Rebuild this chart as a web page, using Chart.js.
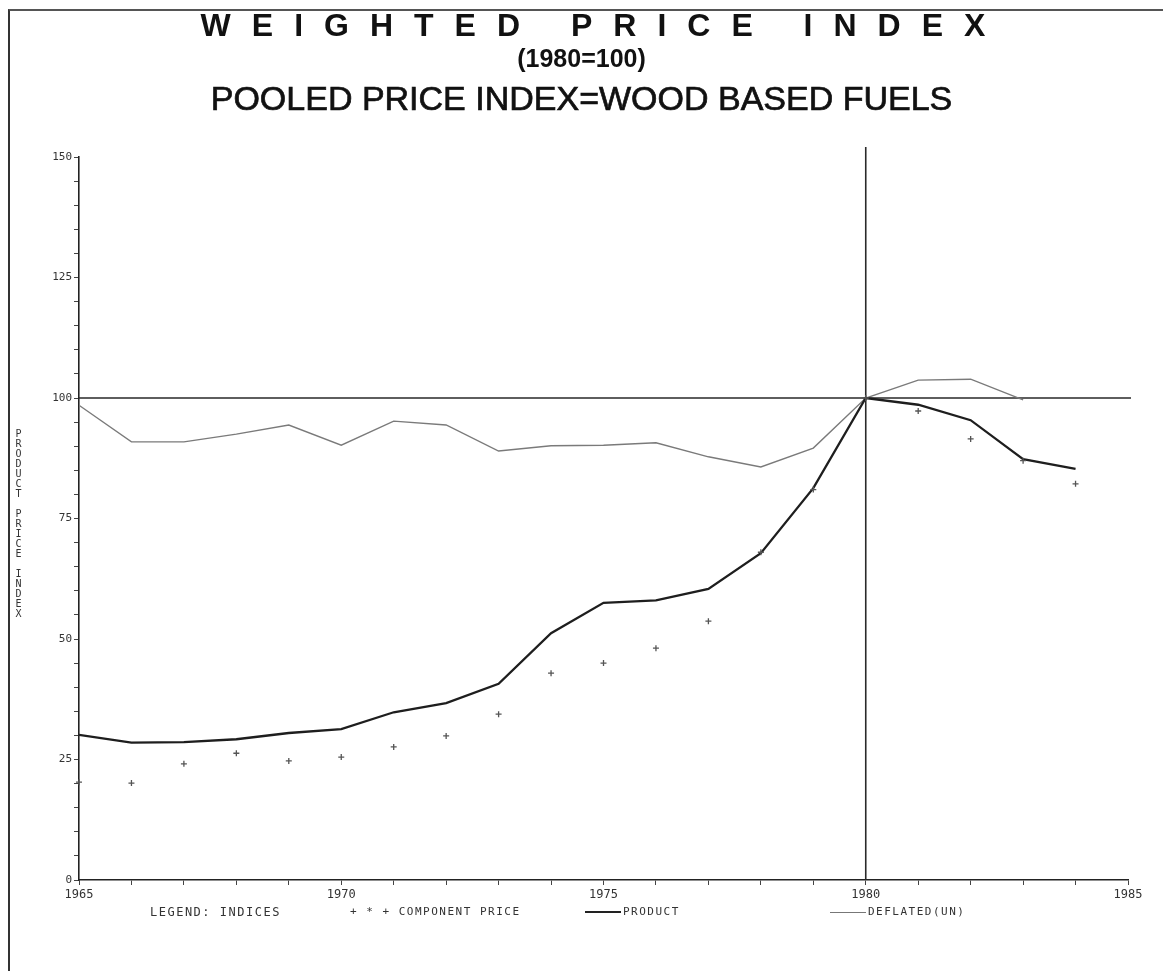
<!DOCTYPE html>
<html>
<head>
<meta charset="utf-8">
<script src="https://cdn.jsdelivr.net/npm/chart.js@4.4.1/dist/chart.umd.min.js"></script>
<style>
  body { margin: 0; background: #fff; }
  #wrap { position: relative; width: 1163px; height: 971px; overflow: hidden; }
  #frame { position: absolute; left: 8px; top: 9px; width: 1160px; height: 970px;
           border-left: 2px solid #333; border-top: 2px solid #555; }
  #chart { position: absolute; left: 0; top: 0; }
  .t { position: absolute; left: 0; width: 1163px; text-align: center; color: #111;
       font-family: "Liberation Sans", Arial, sans-serif; font-weight: bold; white-space: nowrap; }
  #t1 { top: 7px; font-size: 32px; letter-spacing: 21px; padding-left: 22px; }
  #t2 { top: 44px; font-size: 25px; }
  #t3 { top: 79px; font-size: 34px; font-weight: normal; -webkit-text-stroke: 0.7px #111; }
  #ytitle { position: absolute; left: 13px; top: 428px; writing-mode: vertical-lr; text-orientation: upright;
            font-family: "DejaVu Sans Mono", monospace; font-size: 10px; color: #333; letter-spacing: -1px; }
  .lg { position: absolute; top: 905px; font-family: "DejaVu Sans Mono", monospace; font-size: 12px;
        color: #333; letter-spacing: 1.5px; white-space: nowrap; }
  .sw { display: inline-block; vertical-align: middle; width: 36px; margin-right: 2px; }
</style>
</head>
<body>
<div id="wrap">
  <div id="frame"></div>
  <canvas id="chart" width="1163" height="971"></canvas>
  <div class="t" id="t1">WEIGHTED PRICE INDEX</div>
  <div class="t" id="t2">(1980=100)</div>
  <div class="t" id="t3">POOLED PRICE INDEX=WOOD BASED FUELS</div>
  <div id="ytitle">PRODUCT PRICE INDEX</div>
  <div class="lg" style="left:150px">LEGEND: INDICES</div>
  <div class="lg" style="left:350px; font-size:11px">+ * + COMPONENT PRICE</div>
  <div class="lg" style="left:585px; font-size:11px"><span class="sw" style="border-top:2px solid #222"></span>PRODUCT</div>
  <div class="lg" style="left:830px; font-size:11px"><span class="sw" style="border-top:1px solid #777"></span>DEFLATED(UN)</div>
</div>
<script>
// data
const years = [1965, 1966, 1967, 1968, 1969, 1970, 1971, 1972, 1973, 1974,
               1975, 1976, 1977, 1978, 1979, 1980, 1981, 1982, 1983, 1984];
const productIndex = [30.1, 28.5, 28.6, 29.2, 30.5, 31.3, 34.8, 36.7, 40.7, 51.2,
                      57.5, 58.0, 60.4, 67.8, 81.3, 100, 98.6, 95.4, 87.3, 85.3];
const deflatedIndex = [98.5, 90.9, 90.9, 92.5, 94.4, 90.2, 95.2, 94.4, 89.0, 90.1,
                       90.2, 90.7, 87.8, 85.7, 89.6, 100, 103.7, 103.9, 99.6, null];
const componentPrice = [20.3, 20.1, 24.1, 26.3, 24.7, 25.5, 27.6, 29.9, 34.4, 42.9,
                        45.0, 48.1, 53.7, 68.0, 81.0, 100, 97.3, 91.5, 87.0, 82.2];
const baseYear = 1980;
const baseIndex = 100;
const xMin = 1965, xMax = 1985;
const yMin = 0, yMax = 150;

const pts = vals => years.map((y, i) => ({ x: y, y: vals[i] }));

// base year / base index reference lines
const baseLines = {
  id: "baseLines",
  beforeDatasetsDraw(chart) {
    const { ctx, chartArea, scales } = chart;
    const px = scales.x.getPixelForValue(baseYear);
    const py = scales.y.getPixelForValue(baseIndex);
    ctx.save();
    ctx.strokeStyle = "#2a2a2a";
    ctx.lineWidth = 1.6;
    ctx.beginPath();
    ctx.moveTo(chartArea.left, py);
    ctx.lineTo(chartArea.right + 3, py);
    ctx.moveTo(px, chartArea.top - 10);
    ctx.lineTo(px, chartArea.bottom);
    ctx.stroke();
    ctx.restore();
  }
};

const monoFont = { family: "DejaVu Sans Mono", size: 11 };

new Chart(document.getElementById("chart"), {
  type: "line",
  data: {
    datasets: [
      {
        label: "COMPONENT PRICE",
        data: pts(componentPrice),
        showLine: false,
        pointStyle: "cross",
        pointRadius: 3,
        borderColor: "#555",
        borderWidth: 1.3,
        clip: false
      },
      {
        label: "PRODUCT",
        data: pts(productIndex),
        borderColor: "#1e1e1e",
        borderWidth: 2.3,
        pointRadius: 0,
        tension: 0
      },
      {
        label: "DEFLATED(UN)",
        data: pts(deflatedIndex),
        borderColor: "#7a7a7a",
        borderWidth: 1.4,
        pointRadius: 0,
        tension: 0,
        spanGaps: false
      }
    ]
  },
  options: {
    responsive: false,
    animation: false,
    layout: { padding: { top: 157, right: 35, bottom: 61, left: 19 } },
    plugins: {
      legend: { display: false },
      tooltip: { enabled: false }
    },
    scales: {
      x: {
        type: "linear",
        min: xMin,
        max: xMax,
        afterFit: s => { s.height = 30; },
        border: { display: true, color: "#222", width: 1.6 },
        grid: { drawOnChartArea: false, drawTicks: true, tickLength: 5, color: "#444" },
        ticks: {
          stepSize: 1,
          autoSkip: false,
          maxRotation: 0,
          color: "#333",
          font: { family: "DejaVu Sans Mono", size: 12 },
          callback: v => (v % 5 === 0 ? String(v) : "")
        }
      },
      y: {
        min: yMin,
        max: yMax,
        afterFit: s => { s.width = 60; },
        border: { display: true, color: "#222", width: 1.6 },
        grid: { drawOnChartArea: false, drawTicks: true, tickLength: 5, color: "#444" },
        ticks: {
          stepSize: 5,
          autoSkip: false,
          color: "#333",
          padding: 2,
          font: monoFont,
          callback: v => (v % 25 === 0 ? String(v) : "")
        }
      }
    }
  },
  plugins: [baseLines]
});
</script>
</body>
</html>
